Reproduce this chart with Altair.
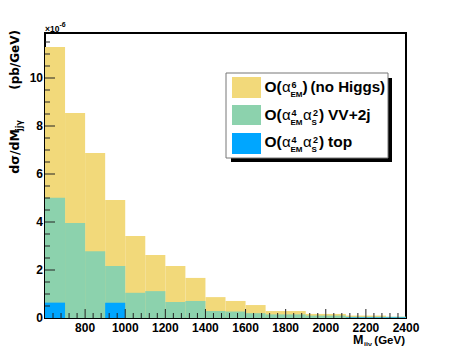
import altair as alt
import pandas as pd

# ---------------- data ----------------
bin_lo = [600, 700, 800, 900, 1000, 1100, 1200, 1300, 1400, 1500,
          1600, 1700, 1800, 1900, 2000, 2100, 2200, 2300]
bin_hi = [700, 800, 900, 1000, 1100, 1200, 1300, 1400, 1500, 1600,
          1700, 1800, 1900, 2000, 2100, 2200, 2300, 2400]
ew6 = [11.29, 8.54, 6.87, 4.92, 3.42, 2.63, 2.17, 1.67, 0.87, 0.71,
       0.54, 0.29, 0.29, 0.17, 0.17, 0.10, 0.10, 0.05]
vv2j = [5.01, 3.96, 2.78, 2.17, 1.05, 1.12, 0.67, 0.71, 0.29, 0.27,
        0.20, 0.15, 0.15, 0.10, 0.10, 0.05, 0.05, 0.05]
top = [0.64, 0.0, 0.0, 0.64, 0.0, 0.0, 0.0, 0.0, 0.0, 0.0,
       0.0, 0.0, 0.0, 0.0, 0.0, 0.02, 0.02, 0.02]

x_labels = [800, 1000, 1200, 1400, 1600, 1800, 2000, 2200, 2400]
x_minor = [v for v in range(640, 2400, 40) if v not in x_labels]
y_labels = [0, 2, 4, 6, 8, 10]
y_minor = [v / 2 for v in range(1, 24) if (v / 2) not in y_labels]

leg_em_pow = ["6", "4", "4"]
leg_s_pow = ["", "2", "2"]
leg_suffix = ["(no Higgs)", "VV+2j", "top"]
colors = ["#F2D97A", "#8CD2AD", "#00A6FF"]

XDOM = [600, 2400]
YDOM = [0, 11.875]
W, H = 361, 285
FONT = "Liberation Sans"

xs = alt.Scale(domain=XDOM, nice=False, zero=False)
ys = alt.Scale(domain=YDOM, nice=False, zero=True)

df = pd.DataFrame({"lo": bin_lo, "hi": bin_hi, "ew6": ew6, "vv": vv2j, "top": top, "zero": 0.0})

def bars(field, color):
    return alt.Chart(df).mark_rect(color=color).encode(
        x=alt.X("lo:Q", scale=xs, axis=None),
        x2="hi:Q",
        y=alt.Y(field + ":Q", scale=ys, axis=None),
        y2="zero:Q",
    )

layers = [bars("ew6", colors[0]), bars("vv", colors[1]), bars("top", colors[2])]

# tick marks (inside)
def yticks(vals, length):
    return alt.Chart(pd.DataFrame({"v": vals})).mark_rule(color="#222", strokeWidth=1).encode(
        y=alt.Y("v:Q", scale=ys, axis=None), x=alt.value(0), x2=alt.value(length))

def xticks(vals, length):
    return alt.Chart(pd.DataFrame({"v": vals})).mark_rule(color="#222", strokeWidth=1).encode(
        x=alt.X("v:Q", scale=xs, axis=None), y=alt.value(H), y2=alt.value(H - length))

layers += [yticks(y_labels[1:], 10), yticks(y_minor, 5), xticks(x_labels[:-1], 9), xticks(x_minor, 5)]

# tick labels through the scales
xl = pd.DataFrame({"v": x_labels, "t": [str(v) for v in x_labels]})
layers.append(alt.Chart(xl).mark_text(font=FONT, fontWeight="bold", fontSize=12, align="center",
                                      baseline="alphabetic", color="black").encode(
    x=alt.X("v:Q", scale=xs, axis=None), y=alt.value(H + 13.5), text="t:N"))
yl = pd.DataFrame({"v": y_labels, "t": [str(v) for v in y_labels]})
layers.append(alt.Chart(yl).mark_text(font=FONT, fontWeight="bold", fontSize=12, align="right",
                                      baseline="alphabetic", dy=4.3, color="black").encode(
    y=alt.Y("v:Q", scale=ys, axis=None), x=alt.value(-2), text="t:N"))

one = alt.Data(values=[{}])

def txt(s, x, y, size, font=FONT, weight="bold", align="left", baseline="alphabetic", angle=0):
    kw = dict(font=font, fontSize=size, fontWeight=weight, align=align, baseline=baseline, color="black")
    if angle:
        kw["angle"] = angle
    return alt.Chart(one).mark_text(**kw).encode(x=alt.value(x), y=alt.value(y), text=alt.value(s))

def box(x1, y1, x2, y2, fill, stroke=None, sw=0):
    kw = dict(fill=fill)
    if stroke:
        kw.update(stroke=stroke, strokeWidth=sw)
    return alt.Chart(one).mark_rect(**kw).encode(
        x=alt.value(x1), x2=alt.value(x2), y=alt.value(y1), y2=alt.value(y2))

# ---- legend (page coords minus origin 45,33) ----
OX, OY = 45, 33
layers.append(box(231 - OX, 78 - OY, 392 - OX, 162 - OY, "black"))
layers.append(box(226 - OX, 73 - OY, 388 - OX, 158 - OY, "white", "#777", 1))
sw_y = [(77, 98), (105, 125), (133, 154)]
base = [92.3, 119.5, 147.0]
for i in range(3):
    layers.append(box(232 - OX, sw_y[i][0] - OY, 261 - OX, sw_y[i][1] - OY, colors[i]))
    b = base[i] - OY
    layers.append(txt("O(", 264.5 - OX, b, 15.5))
    layers.append(txt("α", 282 - OX, b, 15, weight="normal"))
    layers.append(txt(leg_em_pow[i], 291.5 - OX, b - 4, 9))
    layers.append(txt("EM", 290.5 - OX, b + 5, 8))
    if leg_s_pow[i]:
        layers.append(txt("α", 303 - OX, b, 15, weight="normal"))
        layers.append(txt(leg_s_pow[i], 313 - OX, b - 4, 9))
        layers.append(txt("S", 311.5 - OX, b + 5, 8))
        layers.append(txt(")", 319 - OX, b, 15.5))
        layers.append(txt(leg_suffix[i], 328 - OX, b, 15.5))
    else:
        layers.append(txt(")", 302.5 - OX, b, 15.5))
        layers.append(txt(leg_suffix[i], 310.5 - OX, b, 15.1))

# ---- axis titles ----
layers.append(txt("M", 353 - OX, 344 - OY, 12.5))
layers.append(txt("jjγ", 364 - OX, 346.5 - OY, 7))
layers.append(txt("(GeV)", 405 - OX, 344 - OY, 11.5, align="right"))

layers.append(txt("(pb/GeV)", 19 - OX, 30 - OY, 12, font="DejaVu Sans", align="right", angle=270))
layers.append(txt("jjγ", 22 - OX, 120 - OY, 8, font="DejaVu Sans", align="right", angle=270))
layers.append(txt("dσ/dM", 19 - OX, 129 - OY, 12.5, font="DejaVu Sans", align="right", angle=270))

layers.append(txt("×10", 45 - OX, 32 - OY, 8.5))
layers.append(txt("-6", 59.5 - OX, 27 - OY, 7))

chart = alt.layer(*layers).properties(
    width=W, height=H,
    padding={"left": 37, "top": 25, "right": 38, "bottom": 28},
    autosize=alt.AutoSizeParams(type="none"),
    background="white",
).configure_view(stroke="black", strokeWidth=2)

chart.save("out.html", embed_options={"renderer": "svg", "actions": False})
